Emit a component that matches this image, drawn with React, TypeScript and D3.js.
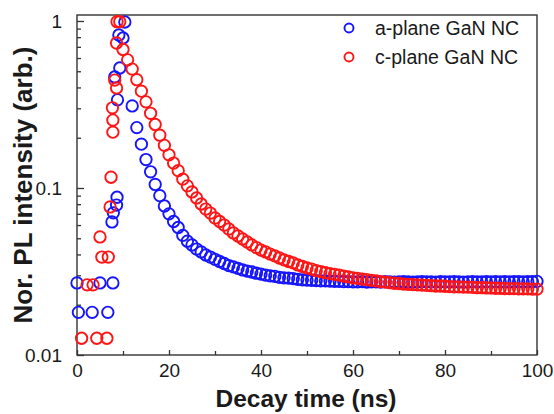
import * as d3 from 'd3'
import { useEffect, useRef } from 'react'

// a-plane GaN NC : points before / around the peak, [time ns, intensity]
const aRise = [
  [0.0, 0.027], [0.3, 0.018], [3.3, 0.018], [5.0, 0.027], [6.7, 0.018], [7.8, 0.027],
  [7.6, 0.0626], [7.9, 0.071], [8.6, 0.079], [8.7, 0.088], [8.2, 0.462], [8.8, 0.337],
  [9.3, 0.523], [9.1, 0.824], [10.0, 0.791], [10.4, 0.986]
]
// a-plane decay, one point per ns from aDecayStart
const aDecayStart = 12
const aDecay = [
  0.31, 0.23, 0.183, 0.148, 0.125, 0.105, 0.090, 0.078, 0.070, 0.063,
  0.058, 0.052, 0.048, 0.0456, 0.0431, 0.0414, 0.0397, 0.0386, 0.0374, 0.0363,
  0.0353, 0.0343, 0.0337, 0.0330, 0.0323, 0.0318, 0.0314, 0.0309, 0.0305, 0.0301,
  0.0298, 0.0296, 0.0292, 0.0290, 0.0289, 0.0287, 0.0284, 0.0282, 0.0281, 0.0280,
  0.0279, 0.0278, 0.0278, 0.0277, 0.0276, 0.0276, 0.0275, 0.0275, 0.0274,
  0.0274, 0.0275, 0.0273, 0.0274, 0.0274, 0.0273, 0.0275, 0.0274, 0.0273, 0.0274,
  0.0275, 0.0274, 0.0273, 0.0274, 0.0275, 0.0274, 0.0274, 0.0273, 0.0275, 0.0274,
  0.0274, 0.0275, 0.0274, 0.0273, 0.0274, 0.0275, 0.0274, 0.0274, 0.0275, 0.0274,
  0.0275, 0.0274, 0.0275, 0.0274, 0.0275, 0.0275, 0.0274, 0.0275, 0.0275, 0.0276
]

// c-plane GaN NC
const cRise = [
  [1.0, 0.0126], [2.2, 0.0263], [3.5, 0.0263], [4.3, 0.0126], [5.0, 0.0509], [5.4, 0.0386],
  [6.5, 0.0126], [6.8, 0.0386], [7.2, 0.077], [7.4, 0.116], [7.7, 0.302], [7.8, 0.255],
  [7.8, 0.216], [8.2, 0.443], [8.6, 0.397], [8.6, 0.738], [8.7, 0.99], [9.3, 0.99]
]
const cDecayStart = 10
const cDecay = [
  0.675, 0.585, 0.515, 0.445, 0.38, 0.328, 0.28, 0.24, 0.207, 0.180,
  0.158, 0.141, 0.127, 0.113, 0.103, 0.0947, 0.0871, 0.0802, 0.0748, 0.0708,
  0.0661, 0.0630, 0.0600, 0.0568, 0.0538, 0.0516, 0.0495, 0.0475, 0.0456, 0.0440,
  0.0425, 0.0414, 0.0402, 0.0392, 0.0381, 0.0371, 0.0363, 0.0356, 0.0346, 0.0339,
  0.0332, 0.0327, 0.0320, 0.0316, 0.0311, 0.0307, 0.0304, 0.0301, 0.0297, 0.0294,
  0.0290, 0.0288, 0.0285, 0.0283, 0.0280, 0.0278, 0.0275, 0.0273, 0.0271, 0.0269,
  0.0268, 0.0266, 0.0265, 0.0264, 0.0263, 0.0262, 0.0261, 0.0260, 0.0259, 0.0259,
  0.0258, 0.0257, 0.0256, 0.0256, 0.0255, 0.0255, 0.0254, 0.0253, 0.0253, 0.0252,
  0.0252, 0.0251, 0.0251, 0.0250, 0.0250, 0.0250, 0.0249, 0.0249, 0.0249, 0.0248,
  0.0248
]

const seriesNames = ['a-plane GaN NC', 'c-plane GaN NC']
const seriesColors = ['#1515ff', '#ff1515']
const xTicks = [0, 20, 40, 60, 80, 100]
const xMinor = [10, 30, 50, 70, 90]
const yTicks = [0.01, 0.1, 1]
const yTickLabels = ['0.01', '0.1', '1']

const FONT = '"Liberation Sans", Arial, sans-serif'

function toPoints(rise: number[][], start: number, decay: number[]) {
  return rise.concat(decay.map((v, i) => [start + i, v]))
}

function App() {
  const ref = useRef<SVGSVGElement>(null)

  useEffect(() => {
    const svg = d3.select(ref.current)
    svg.selectAll('*').remove()

    const left = 77, right = 537, top = 15, bottom = 355
    const x = d3.scaleLinear().domain([0, 100]).range([left, right])
    const y = d3.scaleLog().domain([0.01, 1.086]).range([bottom, top])

    const minorY: number[] = []
    ;[0.01, 0.1].forEach(d => { for (let k = 2; k <= 9; k++) minorY.push(d * k) })

    // minor ticks
    svg.append('g').attr('transform', `translate(${left},0)`)
      .call(d3.axisLeft(y).tickValues(minorY).tickFormat(() => '').tickSizeInner(-4).tickSizeOuter(0))
      .call(g => g.select('.domain').remove())
    svg.append('g').attr('transform', `translate(0,${bottom})`)
      .call(d3.axisBottom(x).tickValues(xMinor).tickFormat(() => '').tickSizeInner(-4).tickSizeOuter(0))
      .call(g => g.select('.domain').remove())

    // major ticks
    const ya = svg.append('g').attr('transform', `translate(${left},0)`)
      .call(d3.axisLeft(y).tickValues(yTicks).tickFormat((d, i) => yTickLabels[i]).tickSizeInner(-7).tickSizeOuter(0).tickPadding(15))
    ya.select('.domain').remove()
    const xa = svg.append('g').attr('transform', `translate(0,${bottom})`)
      .call(d3.axisBottom(x).tickValues(xTicks).tickSizeInner(-5).tickSizeOuter(0).tickPadding(9))
    xa.select('.domain').remove()

    svg.selectAll('.tick line').attr('stroke', '#333').attr('stroke-width', 1.3)
    svg.selectAll('.tick text').attr('font-family', FONT).attr('font-size', 19).attr('fill', '#1a1a1a')

    // frame
    svg.append('rect')
      .attr('x', left).attr('y', top).attr('width', right - left).attr('height', bottom - top)
      .attr('fill', 'none').attr('stroke', '#333').attr('stroke-width', 1.4)

    const all = [toPoints(aRise, aDecayStart, aDecay), toPoints(cRise, cDecayStart, cDecay)]
    all.forEach((pts, si) => {
      svg.append('g').selectAll('circle').data(pts).enter().append('circle')
        .attr('cx', d => x(d[0])).attr('cy', d => y(d[1])).attr('r', 5.7)
        .attr('fill', 'none').attr('stroke', seriesColors[si]).attr('stroke-width', 1.9)
    })

    // legend
    seriesNames.forEach((name, i) => {
      const ly = 28 + i * 29
      svg.append('circle').attr('cx', 349).attr('cy', ly).attr('r', 4.5)
        .attr('fill', 'none').attr('stroke', seriesColors[i]).attr('stroke-width', 1.9)
      svg.append('text').attr('x', 375).attr('y', ly + 7).text(name)
        .attr('font-family', FONT).attr('font-size', 19.5).attr('fill', '#1a1a1a')
    })

    // axis titles
    svg.append('text').attr('x', 306).attr('y', 407)
      .attr('text-anchor', 'middle').attr('font-family', FONT).attr('font-weight', 'bold')
      .attr('font-size', 24.5).attr('fill', '#1a1a1a').text('Decay time (ns)')
    svg.append('text').attr('transform', `translate(32,185) rotate(-90)`)
      .attr('text-anchor', 'middle').attr('font-family', FONT).attr('font-weight', 'bold')
      .attr('font-size', 26).attr('fill', '#1a1a1a').text('Nor. PL intensity (arb.)')
  }, [])

  return (
    <svg ref={ref} width={554} height={414}
      style={{ position: 'absolute', left: 0, top: 0, background: '#fff' }} />
  )
}

export default App
